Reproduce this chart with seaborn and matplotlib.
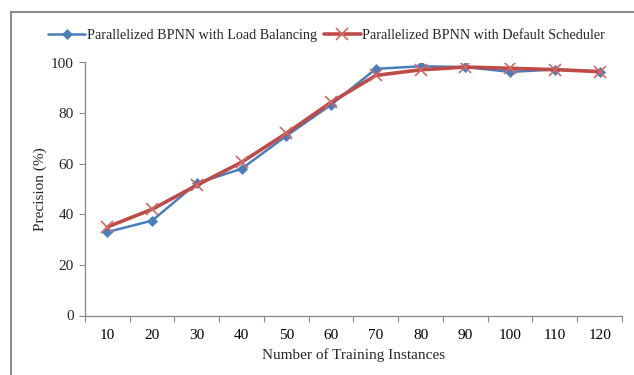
import numpy as np
import pandas as pd
import seaborn as sns
import matplotlib.pyplot as plt
from matplotlib.patches import Rectangle

# Training set sizes and precision for both scheduling strategies
instances = [10, 20, 30, 40, 50, 60, 70, 80, 90, 100, 110, 120]
load_balancing = [33, 37.5, 52.3, 58, 71, 83.3, 97.5, 98.5, 98.2, 96.3, 97.2, 96.4]
default_scheduler = [35, 42, 51.5, 60.6, 72, 84.3, 94.9, 97.1, 98.2, 97.7, 97.2, 96.4]
series_names = ["Parallelized BPNN with Load Balancing",
                "Parallelized BPNN with Default Scheduler"]
y_ticks = [0, 20, 40, 60, 80, 100]

pos = list(range(len(instances)))
df = pd.concat([
    pd.DataFrame({"pos": pos, "precision": load_balancing, "series": series_names[0]}),
    pd.DataFrame({"pos": pos, "precision": default_scheduler, "series": series_names[1]}),
])

sns.set_theme(style="white")
plt.rcParams["font.family"] = ["Liberation Serif", "DejaVu Serif"]

W, H = 634, 375
x0, x1, y_top, y_bot = 85, 622, 62.5, 315.5
fig = plt.figure(figsize=(W / 100, H / 100), dpi=100)
ax = fig.add_axes([x0 / W, 1 - y_bot / H, (x1 - x0) / W, (y_bot - y_top) / H])

blue = "#4A7EBB"
red = "#BE4B48"

sns.lineplot(data=df[df.series == series_names[0]], x="pos", y="precision", ax=ax,
             color=blue, lw=1.8, marker="D", markersize=5.5, markeredgewidth=0.5,
             markeredgecolor=blue, label=series_names[0])
sns.lineplot(data=df[df.series == series_names[1]], x="pos", y="precision", ax=ax,
             color=red, lw=2.6, marker="x", markersize=9, markeredgewidth=1.2,
             markeredgecolor="#D06A67", label=series_names[1])

ax.set_xlim(-0.5, len(instances) - 0.5)
ax.set_ylim(0, 100)
ax.set_yticks(y_ticks)
ax.set_xticks(pos)
ax.set_xticklabels([str(v) for v in instances])
ax.set_xticks(np.arange(-0.5, len(instances)), minor=True)
ax.tick_params(axis="x", which="major", length=0, pad=10, labelsize=11, colors="black")
ax.tick_params(axis="x", which="minor", length=4, width=0.8, color="#868686", bottom=True)
ax.tick_params(axis="y", length=4, width=0.8, color="#868686", left=True, labelsize=11,
               pad=4)

for s in ["top", "right"]:
    ax.spines[s].set_visible(False)
for s in ["left", "bottom"]:
    ax.spines[s].set_color("#868686")
    ax.spines[s].set_linewidth(0.9)

ax.set_xlabel("Number of Training Instances", fontsize=11, labelpad=4)
ax.set_ylabel("Precision (%)", fontsize=11)
ax.yaxis.set_label_coords((47 - x0) / (x1 - x0), 0.5)

ax.legend(loc="lower center", bbox_to_anchor=(0.45, 1.06), ncol=2, frameon=False,
          fontsize=10.2, handlelength=2.6, handletextpad=0.1, columnspacing=0.5,
          borderaxespad=0)

# chart-area border (top and left edges visible)
fig.patches.append(Rectangle((11 / W, -0.2), 1.2, 1.2 - 12 / H,
                             transform=fig.transFigure, fill=False,
                             edgecolor="#8C8C8C", lw=1.5))

fig.savefig("out.png", dpi=100)
